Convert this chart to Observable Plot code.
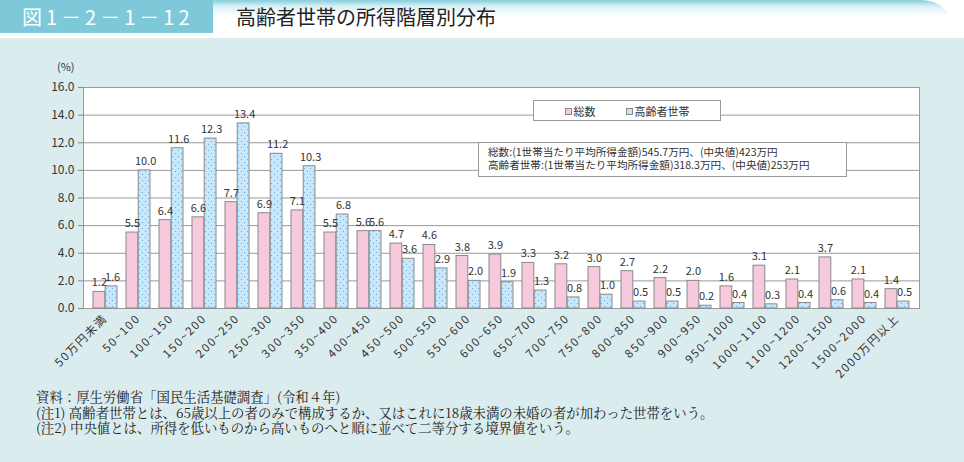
<!DOCTYPE html>
<html><head><meta charset="utf-8">
<script src="https://cdn.jsdelivr.net/npm/d3@7"></script>
<script src="https://cdn.jsdelivr.net/npm/@observablehq/plot@0.6"></script>
<style>
body{margin:0;width:964px;height:462px;background:#dbecef;font-family:"Noto Sans CJK JP","Noto Sans",sans-serif;overflow:hidden;position:relative;color:#222}
#hdr{position:absolute;left:0;top:0;width:964px;height:38px;background:#fff}
#hdrgrad{position:absolute;left:213px;top:0;width:742px;height:33px;background:linear-gradient(#86cddc 0px,#d6eff5 6px,#ffffff 16px);border-top-right-radius:34px}
#fig{position:absolute;left:0;top:0;width:213px;height:33px;background:#7dc9d9;color:#fff;font-size:20px;line-height:33px;letter-spacing:4px;padding-left:22px;box-sizing:border-box}
#ttl{position:absolute;left:236px;top:0;height:33px;line-height:33px;font-size:20px;color:#222}
#chart{position:absolute;left:0;top:38px}
#pct{position:absolute;left:57px;top:58px;font-size:11px;color:#333}
#legend{position:absolute;left:533px;top:100px;width:188px;height:21px;background:#fff;border:1px solid #999;box-sizing:border-box;display:flex;justify-content:center;align-items:center;gap:30px;font-size:11px;color:#333}
#legend span.sw{display:inline-block;width:5px;height:5px;border:1px solid #888;margin-right:2px;vertical-align:1px}
#note{position:absolute;left:478px;top:142px;width:369px;height:35px;background:#fff;border:1px solid #999;box-sizing:border-box;font-size:10.6px;padding:3px 0 0 9px;color:#333}
#note div{height:12.5px;line-height:12.5px;white-space:nowrap}
#foot{position:absolute;left:36px;top:389px;font-size:13.4px;color:#222;font-family:"Noto Serif CJK JP","Noto Sans CJK JP",serif}
#foot div{height:15.6px;line-height:15.6px;white-space:nowrap}
#chart svg g[aria-label="x-axis tick label"] text{letter-spacing:1.6px}
</style></head>
<body>
<div id="hdr"><div id="hdrgrad"></div></div>
<div id="fig">図1－2－1－12</div>
<div id="ttl">高齢者世帯の所得階層別分布</div>
<div id="chart"></div>
<div id="pct">(%)</div>
<div id="legend"><div><span class="sw" style="background:#f7c9dd"></span>総数</div><div><span class="sw" style="background:#c9e7f8"></span>高齢者世帯</div></div>
<div id="note"><div>総数:(1世帯当たり平均所得金額)545.7万円、(中央値)423万円</div><div>高齢者世帯:(1世帯当たり平均所得金額)318.3万円、(中央値)253万円</div></div>
<div id="foot"><div>資料：厚生労働省「国民生活基礎調査」(令和４年)</div><div>(注1) 高齢者世帯とは、65歳以上の者のみで構成するか、又はこれに18歳未満の未婚の者が加わった世帯をいう。</div><div>(注2) 中央値とは、所得を低いものから高いものへと順に並べて二等分する境界値をいう。</div></div>
<script>
const categories = ["50万円未満","50~100","100~150","150~200","200~250","250~300","300~350","350~400","400~450","450~500","500~550","550~600","600~650","650~700","700~750","750~800","800~850","850~900","900~950","950~1000","1000~1100","1100~1200","1200~1500","1500~2000","2000万円以上"];
const total = [1.2,5.5,6.4,6.6,7.7,6.9,7.1,5.5,5.6,4.7,4.6,3.8,3.9,3.3,3.2,3.0,2.7,2.2,2.0,1.6,3.1,2.1,3.7,2.1,1.4];
const elderly = [1.6,10.0,11.6,12.3,13.4,11.2,10.3,6.8,5.6,3.6,2.9,2.0,1.9,1.3,0.8,1.0,0.5,0.5,0.2,0.4,0.3,0.4,0.6,0.4,0.5];
const yTicks = [0,2,4,6,8,10,12,14,16];

const rows = categories.map((c,i)=>({cat:c,total:total[i],elderly:elderly[i]}));
const half = 12.2;

const plot = Plot.plot({
  width: 964, height: 348,
  marginTop: 49, marginBottom: 78, marginLeft: 83, marginRight: 45,
  style: {background: "transparent", fontFamily: '"Noto Sans CJK JP", sans-serif', color: "#333"},
  x: {domain: categories, paddingInner: 0.27, paddingOuter: 0.135, label: null},
  y: {domain: [0,16], label: null},
  marks: [
    Plot.frame({fill: "white", stroke: "none"}),
    Plot.gridY(yTicks, {stroke: "#999", strokeOpacity: 1, strokeWidth: 1}),
    Plot.frame({stroke: "#999", fill: "none"}),
    Plot.barY(rows, {x: "cat", y: "total", fill: "#f7c9dd", stroke: "#8a8a8a", strokeWidth: 1, insetRight: half}),
    Plot.barY(rows, {x: "cat", y: "elderly", fill: "url(#dots)", stroke: "#8a8a8a", strokeWidth: 1, insetLeft: half}),
    Plot.text(rows, {x: "cat", y: "total", text: d=>d.total.toFixed(1), dx: -half/2, dy: -9, fontSize: 11, fill: "#333"}),
    Plot.text(rows, {x: "cat", y: "elderly", text: d=>d.elderly.toFixed(1), dx: half/2 + 1, dy: -9, fontSize: 11, fill: "#333"}),
    Plot.axisY(yTicks, {tickFormat: d=>d.toFixed(1), tickSize: 5, tickPadding: 4, fontSize: 12, stroke: "#888", fill: "#333", label: null}),
    Plot.ruleX([0], {frameAnchor: "left", stroke: "#888"}),
    Plot.axisX({tickRotate: -45, tickSize: 0, tickPadding: 8, fontSize: 11.5, fill: "#333", label: null})
  ]
});
d3.select(plot).insert("defs", ":first-child").html(
  '<pattern id="dots" width="6" height="6" patternUnits="userSpaceOnUse">' +
  '<rect width="6" height="6" fill="#c9e7f8"/>' +
  '<circle cx="1.5" cy="1.5" r="0.6" fill="#4fa6dc"/>' +
  '<circle cx="4.5" cy="4.5" r="0.6" fill="#4fa6dc"/></pattern>');
document.getElementById("chart").appendChild(plot);
</script>
</body></html>
